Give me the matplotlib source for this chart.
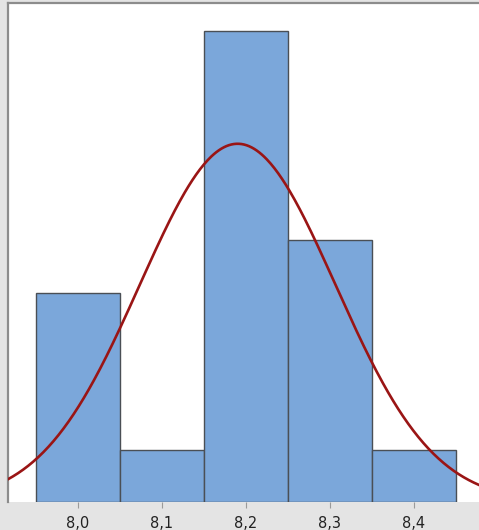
import numpy as np
import matplotlib
matplotlib.use("Agg")
import matplotlib.pyplot as plt
from matplotlib import font_manager

# Histogram data
bin_centers = [8.0, 8.1, 8.2, 8.3, 8.4]
counts = [4, 1, 9, 5, 1]
tick_labels = ["8,0", "8,1", "8,2", "8,3", "8,4"]
bin_width = 0.1

# Fitted normal (mean / st.dev of the sample)
fit_mean = 8.19
fit_sd = 0.1165
n_obs = sum(counts)

BAR_COLOR = "#7BA7DA"
EDGE_COLOR = "#4a4f55"
CURVE_COLOR = "#9a1515"
BG_COLOR = "#e4e4e4"

available = {f.name for f in font_manager.fontManager.ttflist}
label_font = "Liberation Sans Narrow" if "Liberation Sans Narrow" in available else "DejaVu Sans"

fig = plt.figure(figsize=(4.79, 5.30), dpi=100, facecolor=BG_COLOR)
ax = fig.add_axes([8 / 479, 28 / 530, 1 - 8 / 479, 499 / 530])
ax.set_facecolor("white")

ax.bar(bin_centers, counts, width=bin_width, color=BAR_COLOR,
       edgecolor=EDGE_COLOR, linewidth=1.0, zorder=2)

xs = np.linspace(7.90, 8.50, 400)
pdf = np.exp(-0.5 * ((xs - fit_mean) / fit_sd) ** 2) / (fit_sd * np.sqrt(2 * np.pi))
ax.plot(xs, n_obs * bin_width * pdf, color=CURVE_COLOR, linewidth=1.9, zorder=3)

ax.set_xlim(7.9165, 8.4775)
ax.set_ylim(0, 9.54)

ax.set_xticks(bin_centers)
ax.set_xticklabels(tick_labels, fontfamily=label_font, fontsize=10.5, color="#222222")
ax.set_yticks([])
ax.tick_params(axis="x", length=4, width=0.8, color="#9a9a9a", pad=6)

for side in ["right", "bottom"]:
    ax.spines[side].set_visible(False)
for side in ["top", "left"]:
    ax.spines[side].set_color("#8c8c8c")
    ax.spines[side].set_linewidth(1.6)

fig.savefig("out.png", dpi=100, facecolor=BG_COLOR)
